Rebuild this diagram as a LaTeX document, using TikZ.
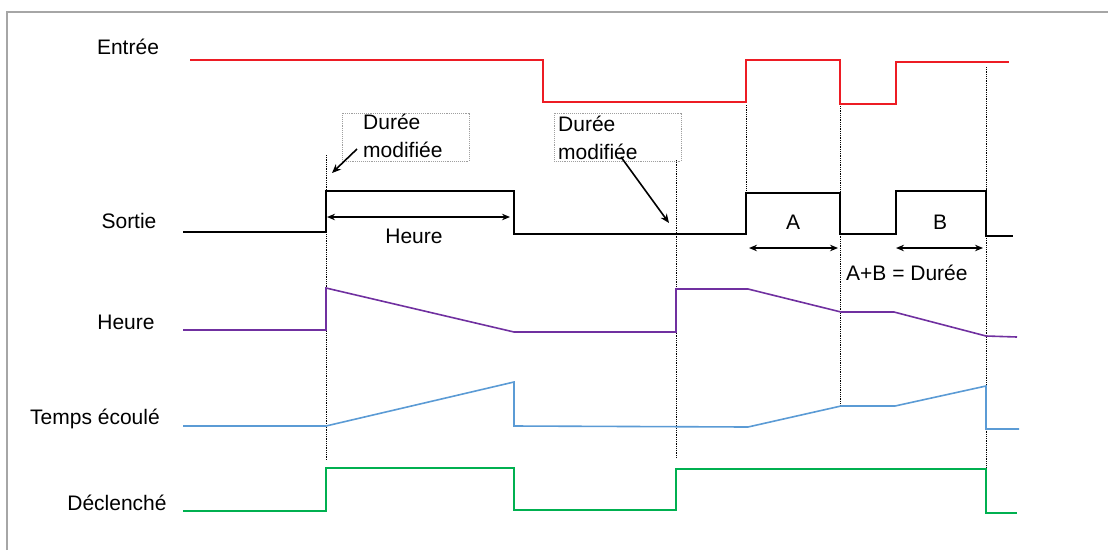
\documentclass[tikz,border=0pt]{standalone}
\usepackage{fontspec}
\setmainfont{Liberation Sans}
\usetikzlibrary{arrows.meta, positioning}

\definecolor{sigred}{RGB}{237,28,36}
\definecolor{sigpurple}{RGB}{112,48,160}
\definecolor{sigblue}{RGB}{91,155,213}
\definecolor{siggreen}{RGB}{0,176,80}
\definecolor{framegray}{RGB}{166,166,166}

\begin{document}
\begin{tikzpicture}[
  x=1pt, y=-1pt,
  font=\fontsize{21}{28}\selectfont,
  lbl/.style   ={anchor=base, inner sep=0pt},
  sig/.style   ={line width=1.6pt, line join=miter},
  guide/.style ={densely dotted, line width=0.8pt, draw=black},
  callbox/.style={draw=gray!75, densely dotted, line width=0.9pt,
                  minimum width=127pt, minimum height=48pt, inner sep=0pt},
  calltext/.style={anchor=base west, align=left, inner sep=0pt},
  span/.style  ={{Stealth[length=8pt,width=6.5pt]}-{Stealth[length=8pt,width=6.5pt]}, line width=1.6pt},
  note/.style  ={-{Stealth[length=9pt,width=7.5pt]}, line width=1.6pt},
]
\useasboundingbox (0,0) rectangle (1108,550);

% ---- frame ----
\draw[framegray, line width=1.6pt] (7,550) -- (7,12) -- (1108,12);

% ---- signal names ----
\node[lbl] (ent) at (128,54)  {Entrée};
\node[lbl] (sor) at (129,228) {Sortie};
\node[lbl] (heu) at (126,329) {Heure};
\node[lbl] (tps) at (95,424)  {Temps écoulé};
\node[lbl] (dec) at (117,510) {Déclenché};

% ---- time markers ----
\draw[guide] (326,155) -- (326,460);
\draw[guide] (676,160) -- (676,458);
\draw[guide] (746,105) -- (746,190);
\draw[guide] (840,106) -- (840,405);
\draw[guide] (986,67)  -- (986,468);

% ---- waveforms ----
\draw[sig, sigred] (190,60) -- (543,60) -- (543,102) -- (746,102) -- (746,60)
      -- (840,60) -- (840,104) -- (896,104) -- (896,62) -- (1009,62);
\draw[sig, black] (183,232) -- (326,232) -- (326,191) -- (514,191) -- (514,234)
      -- (746,234) -- (746,193) -- (840,193) -- (840,234) -- (896,234)
      -- (896,191) -- (986,191) -- (986,236) -- (1013,236);
\draw[sig, sigpurple] (183,330) -- (326,330) -- (326,288) -- (514,332) -- (676,332)
      -- (676,289) -- (748,289) -- (841,312) -- (894,312) -- (986,336) -- (1017,337);
\draw[sig, sigblue] (183,426) -- (326,426) -- (514,382) -- (514,426) -- (748,427)
      -- (841,406) -- (895,406) -- (986,386) -- (986,429) -- (1019,429);
\draw[sig, siggreen] (183,511) -- (326,511) -- (326,468) -- (514,468) -- (514,510)
      -- (676,510) -- (676,469) -- (986,469) -- (986,513) -- (1017,513);

% ---- callouts ----
\node[callbox] (cb1) at (405.5,137) {};
\node[calltext] (ct1) at (363,157) {Durée\\modifiée};
\node[callbox] (cb2) at (617.5,137) {};
\node[calltext] (ct2) at (558,159) {Durée\\modifiée};

\coordinate (n1a) at (357,149);
\coordinate (n1b) at (332,173);
\coordinate (n2a) at (621,157);
\coordinate (n2b) at (669,223);
\draw[note] (n1a) -- (n1b);
\draw[note] (n2a) -- (n2b);

% ---- durations ----
\coordinate (h1) at (327,217);
\coordinate (h2) at (510,217);
\draw[span] (h1) -- (h2);
\node[lbl] (hl) at (414,243) {Heure};

\coordinate (a1) at (749,248);
\coordinate (a2) at (838,248);
\draw[span] (a1) -- (a2);
\node[lbl] (al) at (793,229) {A};

\coordinate (b1) at (896,248);
\coordinate (b2) at (983,248);
\draw[span] (b1) -- (b2);
\node[lbl] (bl) at (940,229) {B};

\node[lbl, anchor=base west] (ab) at (846,280) {A+B = Durée};

\end{tikzpicture}
\end{document}
